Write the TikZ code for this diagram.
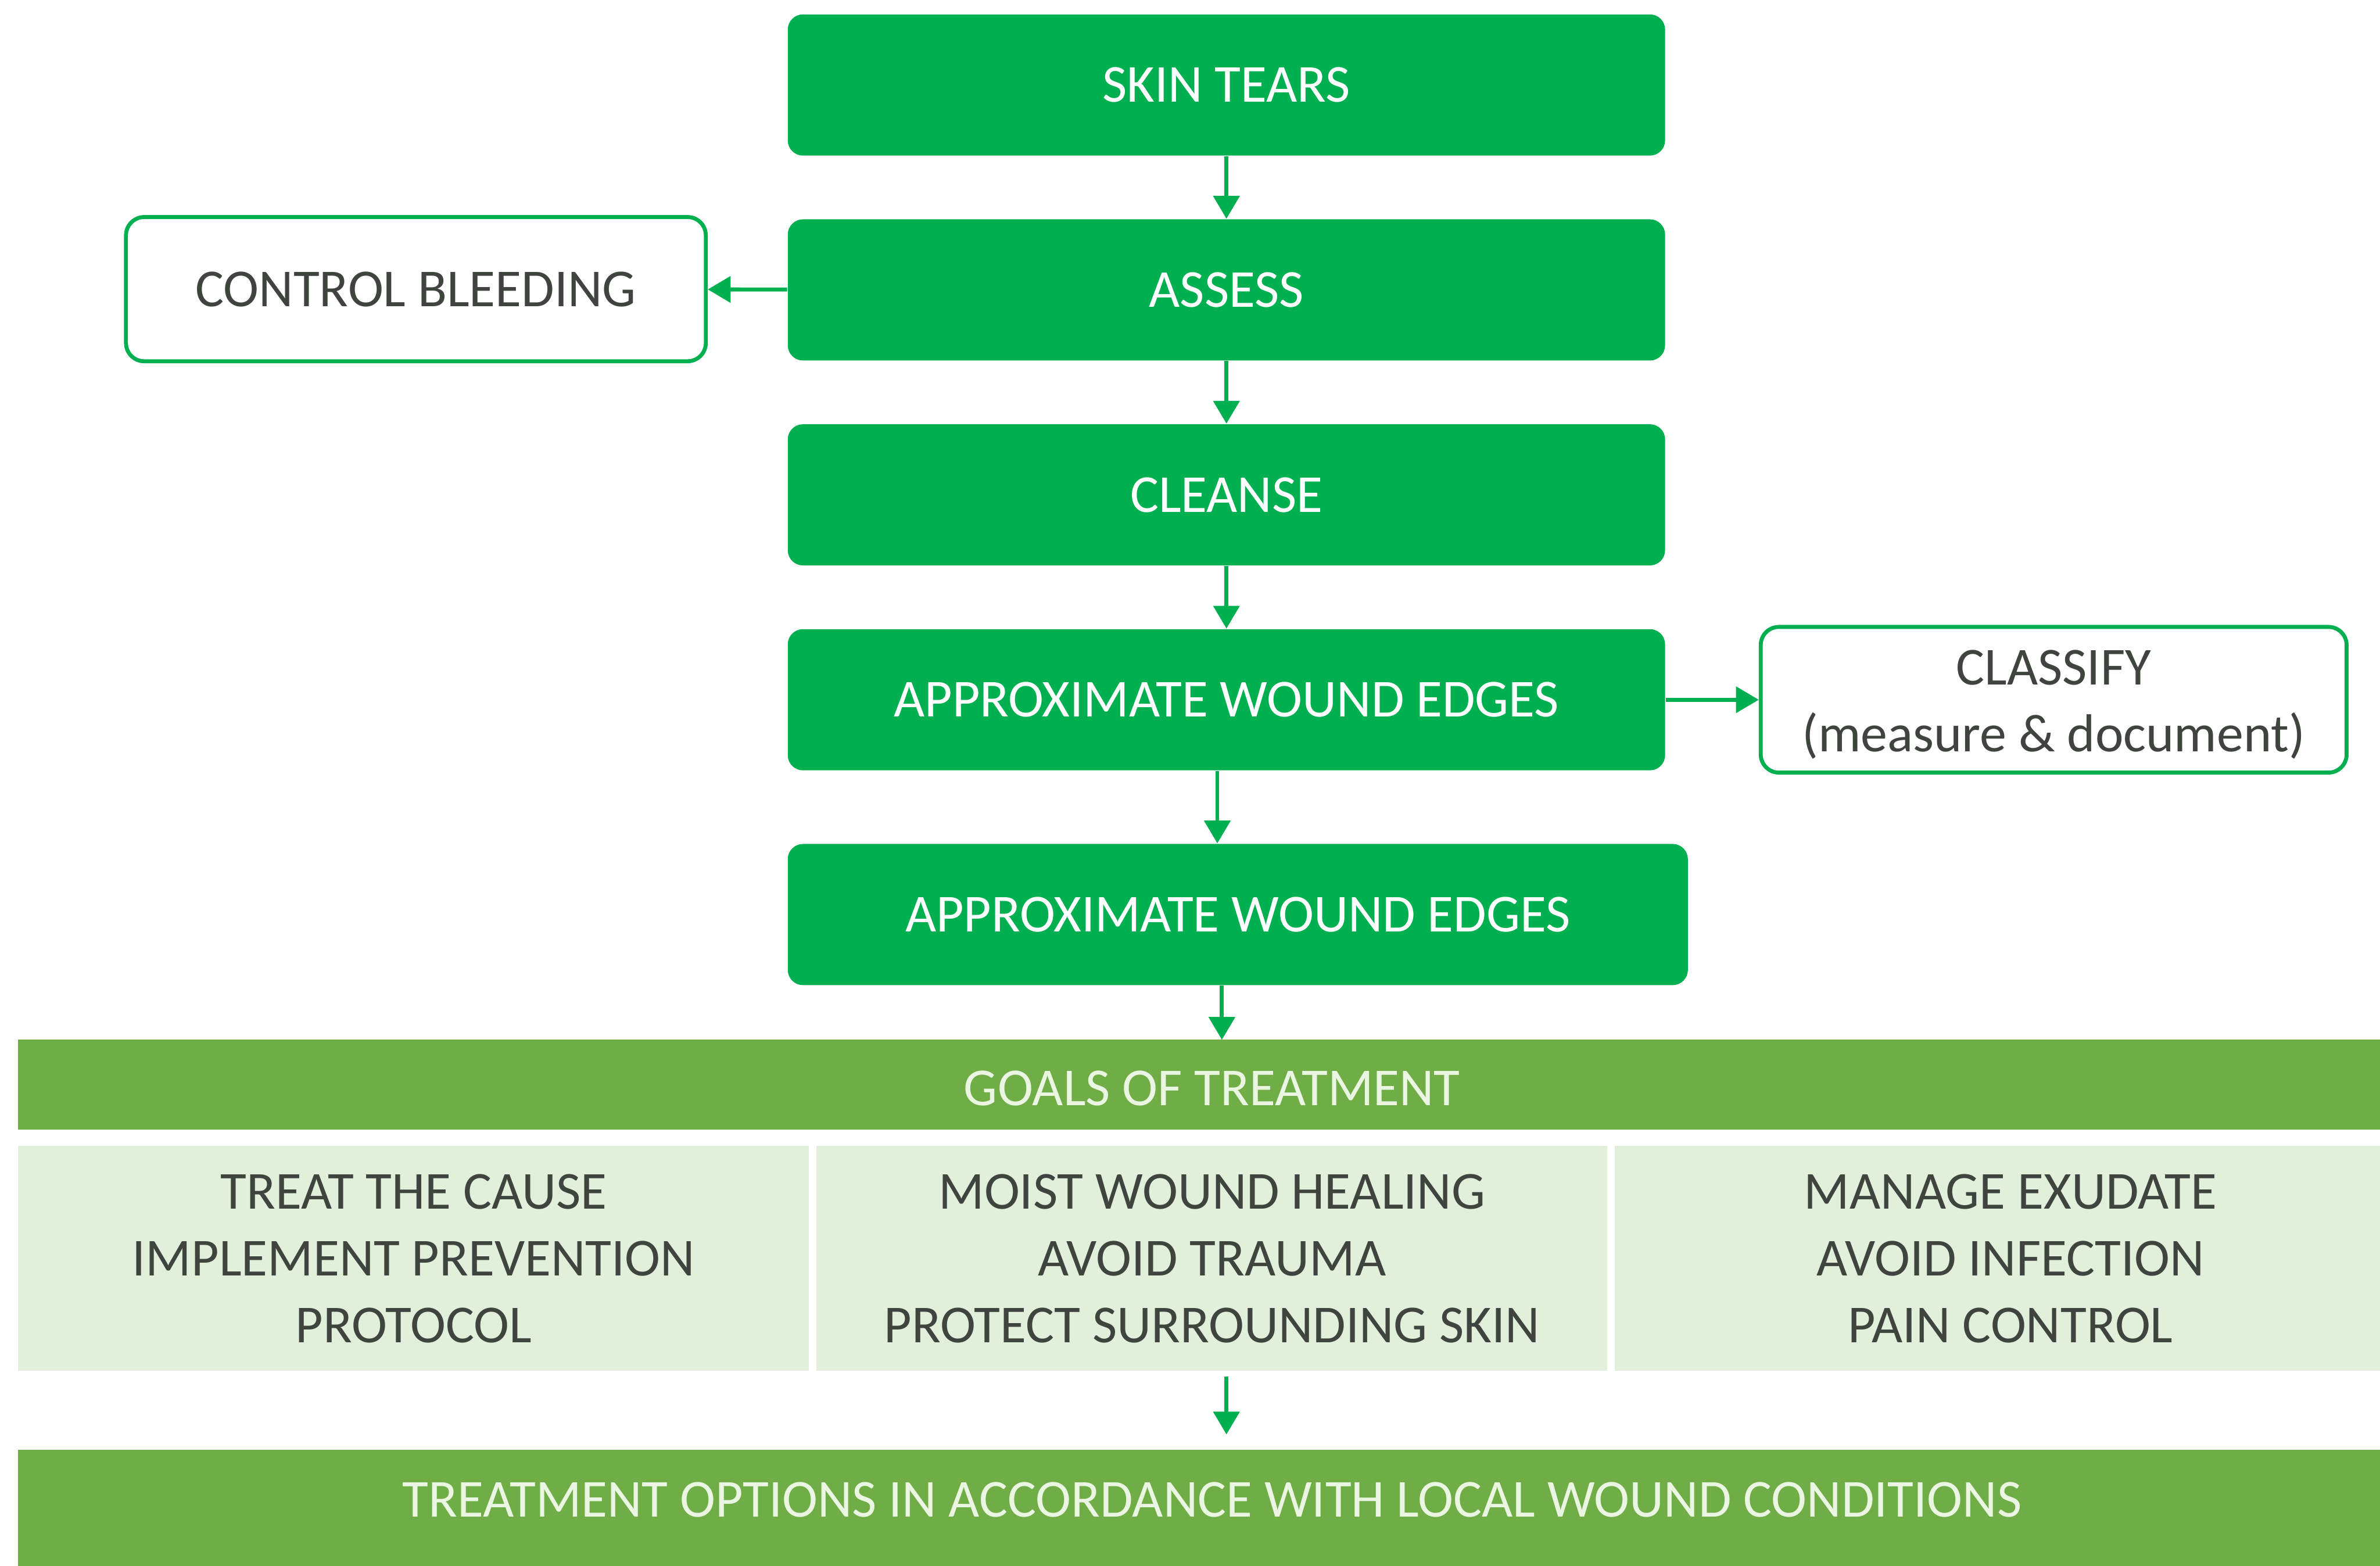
\documentclass[tikz,border=0pt]{standalone}
\usepackage{fontspec}
\setmainfont{Carlito}
\usetikzlibrary{arrows.meta,calc}
\definecolor{boxgreen}{HTML}{00B050}
\definecolor{bargreen}{HTML}{70AD47}
\definecolor{cellgreen}{HTML}{E2EFDA}
\definecolor{bartext}{HTML}{EAF5E2}
\definecolor{darktext}{HTML}{3F443F}
\newcommand{\diagfont}{\fontsize{17.6}{22}\selectfont}
\tikzset{
  stepbox/.style={rectangle, rounded corners=5pt, fill=boxgreen, text=white,
    minimum width=289pt, minimum height=46.5pt, inner sep=0pt, font=\diagfont},
  sidebox/.style={rectangle, rounded corners=6pt, draw=boxgreen, line width=1.3pt,
    fill=white, text=darktext, inner sep=0pt, align=center, font=\diagfont},
  cellbox/.style={rectangle, fill=cellgreen, text=darktext, inner sep=0pt,
    minimum width=260.5pt, minimum height=74pt, align=center, font=\diagfont},
  arr/.style={draw=boxgreen, line width=1.3pt,
    -{Triangle[length=7.5pt,width=8.5pt]}}
}
\begin{document}
\begin{tikzpicture}[x=0.5pt,y=-0.5pt]
\useasboundingbox (0,0) rectangle (1568,1031.4);
\fill[white] (0,0) rectangle (1568,1031.4);
\clip (0,0) rectangle (1568,1031.4);

% main flow
\node[stepbox] (skin)    at (808,56)    {SKIN TEARS};
\node[stepbox] (assess)  at (808,191)   {ASSESS};
\node[stepbox] (cleanse) at (808,326)   {CLEANSE};
\node[stepbox] (approxA) at (808,461)   {APPROXIMATE WOUND EDGES};
\node[stepbox, minimum width=296.5pt] (approxB) at (815.5,602.5) {APPROXIMATE WOUND EDGES};

% side boxes
\node[sidebox, minimum width=191pt, minimum height=47.5pt] (bleed) at (274,190.5) {CONTROL BLEEDING};
\node[sidebox, minimum width=193pt, minimum height=48pt] (classify) at (1353,461) {};
\node[text=darktext, font=\diagfont, align=center, inner sep=0pt] (classifytext)
  at (1353,464) {CLASSIFY\\(measure \& document)};

% goals
\fill[bargreen] (12,685) rectangle (1585,744);
\node[text=bartext, font=\diagfont, inner sep=0pt] (goals) at (798.5,717) {GOALS OF TREATMENT};
\coordinate (goalsTop) at (805,685);
\node[cellbox] (cellA) at (272.5,829) {TREAT THE CAUSE\\IMPLEMENT PREVENTION\\PROTOCOL};
\node[cellbox] (cellB) at (798.5,829) {MOIST WOUND HEALING\\AVOID TRAUMA\\PROTECT SURROUNDING SKIN};
\node[cellbox] (cellC) at (1324.5,829) {MANAGE EXUDATE\\AVOID INFECTION\\PAIN CONTROL};

% treatment options
\fill[bargreen] (12,955) rectangle (1585,1040);
\node[text=bartext, font=\diagfont, inner sep=0pt] (options) at (798.5,988)
  {TREATMENT OPTIONS IN ACCORDANCE WITH LOCAL WOUND CONDITIONS};
\coordinate (optStart) at (808,907);
\coordinate (optEnd) at (808,945);

% connectors
\draw[arr] (skin) -- (assess);
\draw[arr] (assess) -- (bleed);
\draw[arr] (assess) -- (cleanse);
\draw[arr] (cleanse) -- (approxA);
\draw[arr] (approxA) -- (classify);
\draw[arr] ([xshift=-3pt]approxA.south) -- ([xshift=-3pt]approxA.south |- approxB.north);
\draw[arr] (approxB.south -| goalsTop) -- (goalsTop);
\draw[arr] (optStart) -- (optEnd);
\end{tikzpicture}
\end{document}
